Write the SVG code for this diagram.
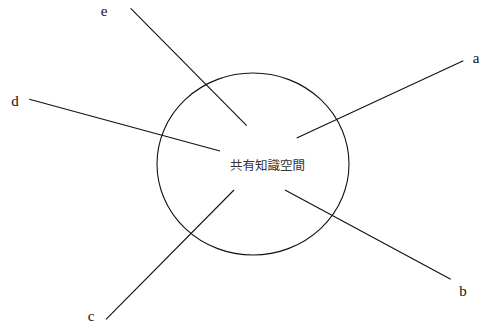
<svg xmlns="http://www.w3.org/2000/svg" width="481" height="326" viewBox="0 0 481 326">
<style>
.ln{stroke:#111;stroke-width:1.1;fill:none}
.lb{font-family:"Liberation Serif",serif;font-size:15px;fill:#111;text-anchor:middle}
.ct{font-family:"Noto Sans CJK JP",sans-serif;font-size:12.5px;fill:#333;text-anchor:middle}
</style>
<rect width="481" height="326" fill="#fff"/>
<g id="space">
<ellipse class="ln" cx="253" cy="164" rx="96" ry="91"/>
<text class="ct" x="267.5" y="170">共有知識空間</text>
</g>
<g id="connectors">
<line class="ln" x1="130.7" y1="8.3" x2="246.7" y2="125.7"/>
<line class="ln" x1="463.3" y1="60.7" x2="296.7" y2="138"/>
<line class="ln" x1="29.3" y1="99.3" x2="220" y2="151"/>
<line class="ln" x1="106" y1="319.3" x2="234" y2="190"/>
<line class="ln" x1="450.7" y1="279.3" x2="285" y2="190"/>
</g>
<g id="a"><text class="lb" x="476" y="63">a</text></g>
<g id="b"><text class="lb" x="463" y="296">b</text></g>
<g id="c"><text class="lb" x="91" y="321">c</text></g>
<g id="d"><text class="lb" x="15" y="106">d</text></g>
<g id="e"><text class="lb" x="104" y="16">e</text></g>
</svg>
